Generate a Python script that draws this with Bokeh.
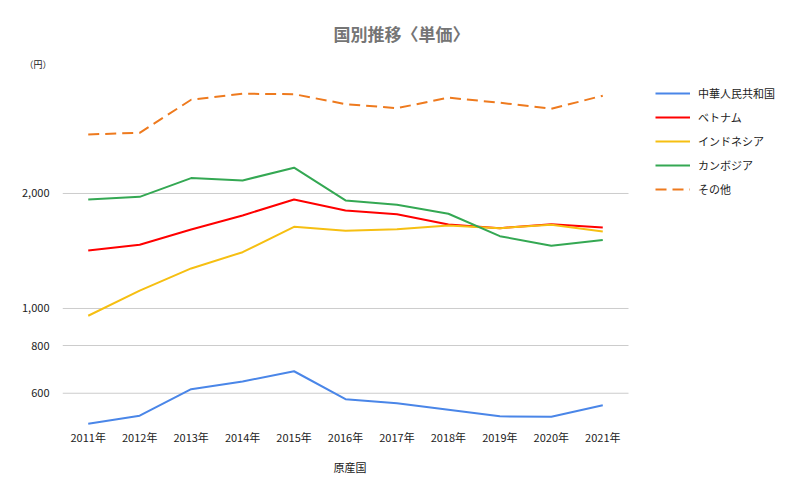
from bokeh.plotting import figure
from bokeh.models import (ColumnDataSource, FixedTicker, NumeralTickFormatter,
                          Legend, LegendItem, Range1d, Title)
from bokeh.embed import file_html
from bokeh.resources import INLINE

years = ["2011年", "2012年", "2013年", "2014年", "2015年", "2016年",
         "2017年", "2018年", "2019年", "2020年", "2021年"]
china = [499, 524, 615, 644, 685, 579, 565, 543, 522, 521, 558]
vietnam = [1418, 1468, 1610, 1752, 1929, 1805, 1765, 1659, 1623, 1662, 1629]
indonesia = [957, 1114, 1273, 1404, 1636, 1597, 1612, 1649, 1623, 1656, 1590]
cambodia = [1929, 1960, 2194, 2163, 2336, 1918, 1869, 1770, 1546, 1459, 1512]
others = [2854, 2883, 3518, 3648, 3639, 3427, 3344, 3562, 3456, 3332, 3606]

series_names = ["中華人民共和国", "ベトナム", "インドネシア", "カンボジア", "その他"]
y_ticks = [600, 800, 1000, 2000]

title_text = "国別推移〈単価〉"
unit_text = "（円）"
x_title = "原産国"

FONT = "Noto Sans CJK JP"

xs = list(range(len(years)))
n = len(years)
band = 566 / n                     # pixel width of one category band
x_end = (791 - 62) / band - 0.5    # frame extends under the legend

p = figure(width=791, height=485, y_axis_type="log",
           x_range=Range1d(-0.5, x_end), y_range=Range1d(491, 3834),
           output_backend="svg", toolbar_location=None,
           min_border_left=62, min_border_right=0,
           min_border_top=85, min_border_bottom=59)
p.outline_line_color = None
p.background_fill_color = "white"
p.border_fill_color = "white"

# horizontal gridlines spanning only the category area
grid_src = ColumnDataSource(dict(x0=[-0.5] * len(y_ticks),
                                 x1=[n - 0.5] * len(y_ticks),
                                 y=y_ticks))
p.segment("x0", "y", "x1", "y", source=grid_src, line_color="#CCCCCC",
          line_width=1)

src = ColumnDataSource(dict(x=xs, china=china, vietnam=vietnam,
                            indonesia=indonesia, cambodia=cambodia,
                            others=others))

colors = ["#4A86E8", "#FF0000", "#F6BF12", "#34A853", "#EE7A1E"]
keys = ["china", "vietnam", "indonesia", "cambodia", "others"]
renderers = []
for k, c in zip(keys, colors):
    dash = "11 6" if k == "others" else "solid"
    r = p.line("x", k, source=src, line_color=c, line_width=2,
               line_dash=dash, line_join="round")
    renderers.append(r)

# y axis
p.yaxis.ticker = FixedTicker(ticks=y_ticks)
p.yaxis.formatter = NumeralTickFormatter(format="0,0")
p.yaxis.axis_line_color = None
p.yaxis.major_tick_line_color = None
p.yaxis.minor_tick_line_color = None
p.yaxis.major_label_text_font = FONT
p.yaxis.major_label_text_font_size = "11px"
p.yaxis.major_label_text_color = "#222222"
p.yaxis.major_label_standoff = 7

# x axis
p.xaxis.ticker = FixedTicker(ticks=xs)
p.xaxis.major_label_overrides = {i: y for i, y in zip(xs, years)}
p.xaxis.axis_line_color = None
p.xaxis.major_tick_line_color = None
p.xaxis.minor_tick_line_color = None
p.xaxis.major_label_text_font = FONT
p.xaxis.major_label_text_font_size = "11px"
p.xaxis.major_label_text_color = "#222222"
p.xaxis.major_label_standoff = -4

p.xgrid.grid_line_color = None
p.ygrid.grid_line_color = None

# x-axis title below the axis, centred under the category area
p.add_layout(Title(text=x_title, align="left", offset=333 - 62,
                   text_font=FONT, text_font_size="11px",
                   text_font_style="normal", text_color="#222222",
                   standoff=18), "below")

# unit label and title above the frame (first added is nearest the frame)
p.add_layout(Title(text=unit_text, align="left", offset=24 - 62,
                   text_font=FONT, text_font_size="9px",
                   text_font_style="normal", text_color="#222222",
                   standoff=29), "above")
p.add_layout(Title(text=title_text, align="left", offset=333 - 62,
                   text_font=FONT, text_font_size="17px",
                   text_font_style="bold", text_color="#757575",
                   standoff=-8), "above")

items = [LegendItem(label=s, renderers=[r]) for s, r in zip(series_names, renderers)]
legend = Legend(items=items, location=(655 - 62, 426 - 197),
                label_text_font=FONT, label_text_font_size="11px",
                label_text_color="#222222", glyph_width=35, glyph_height=16,
                label_height=16,
                label_standoff=8, spacing=8, padding=0, margin=0,
                border_line_color=None, background_fill_alpha=0)
p.add_layout(legend, "center")

html = file_html(p, INLINE)
open("out.html", "w").write(html)
